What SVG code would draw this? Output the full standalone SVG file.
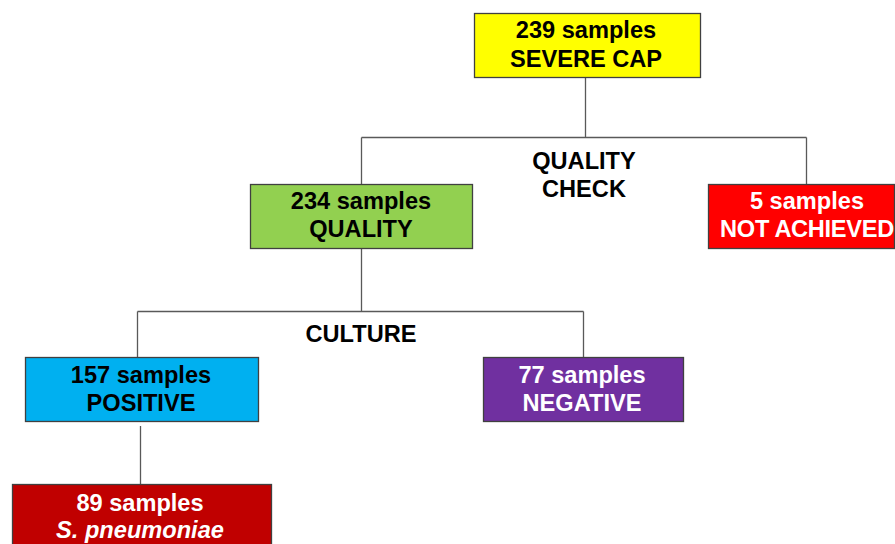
<svg xmlns="http://www.w3.org/2000/svg" width="895" height="544" viewBox="0 0 895 544">
<style>
  .box { stroke: #404040; stroke-width: 1.3; }
  .t { font-family: "Liberation Sans", Arial, sans-serif; font-weight: bold; font-size: 23.6px; text-anchor: middle; }
  .dk { fill: #000000; }
  .wh { fill: #ffffff; }
  .conn { stroke: #595959; stroke-width: 1.3; fill: none; }
</style>
<rect width="895" height="544" fill="#ffffff"/>
<g id="connectors">
  <path class="conn" d="M585.5,77 V137.5 M361.5,137.5 H806.5 M361.5,137.5 V184 M806.5,137.5 V184"/>
  <path class="conn" d="M361.5,249 V311.5 M137.5,311.5 H583.5 M137.5,311.5 V357 M583.5,311.5 V357"/>
  <path class="conn" d="M140.5,426 V484"/>
</g>
<g id="label-quality-check">
  <text class="t dk" x="584" y="169">QUALITY</text>
  <text class="t dk" x="584" y="197">CHECK</text>
</g>
<g id="label-culture">
  <text class="t dk" x="361" y="342">CULTURE</text>
</g>
<g id="severe-cap">
  <rect class="box" x="474.5" y="13.5" width="226" height="64" fill="#FFFF00"/>
  <text class="t dk" x="586" y="38">239 samples</text>
  <text class="t dk" x="586" y="67">SEVERE CAP</text>
</g>
<g id="quality">
  <rect class="box" x="250.5" y="184.5" width="222" height="64" fill="#92D050"/>
  <text class="t dk" x="361" y="209">234 samples</text>
  <text class="t dk" x="361" y="237">QUALITY</text>
</g>
<g id="not-achieved">
  <rect class="box" x="708.5" y="184.5" width="186" height="64" fill="#FF0000"/>
  <text class="t wh" x="807" y="209">5 samples</text>
  <text class="t wh" x="807" y="237" letter-spacing="-0.3">NOT ACHIEVED</text>
</g>
<g id="positive">
  <rect class="box" x="25.5" y="357.5" width="233" height="64" fill="#00B0F0"/>
  <text class="t dk" x="141" y="383">157 samples</text>
  <text class="t dk" x="141" y="411">POSITIVE</text>
</g>
<g id="negative">
  <rect class="box" x="483.5" y="357.5" width="200" height="64" fill="#7030A0"/>
  <text class="t wh" x="582" y="383">77 samples</text>
  <text class="t wh" x="582" y="411">NEGATIVE</text>
</g>
<g id="s-pneumoniae">
  <rect class="box" x="12.5" y="484.5" width="259" height="80" fill="#C00000"/>
  <text class="t wh" x="140" y="511">89 samples</text>
  <text class="t wh" x="140" y="538" font-style="italic">S. pneumoniae</text>
</g>
</svg>
